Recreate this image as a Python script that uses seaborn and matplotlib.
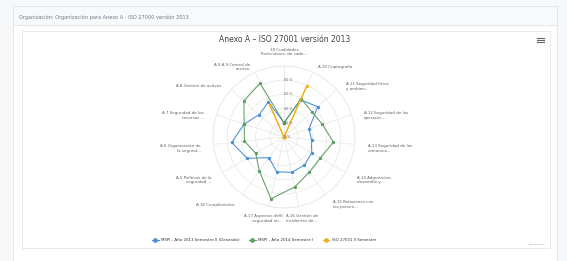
import numpy as np
import pandas as pd
import matplotlib
matplotlib.use("Agg")
import matplotlib.pyplot as plt
import seaborn as sns
from matplotlib.patches import Rectangle

# ---------------- data ----------------
categories = [
    "18 Cualidades\nParticulares, de cada...",
    "A.10 Criptografía",
    "A.11 Seguridad física\ny ambien...",
    "A.12 Seguridad de las\noperacio...",
    "A.13 Seguridad de las\ncomunica...",
    "A.14 Adquisición,\ndesarrollo y...",
    "A.15 Relaciones con\nlos provee...",
    "A.16 Gestión de\nincidentes de...",
    "A.17 Aspectos deSI\nseguridad en...",
    "A.18 Cumplimiento",
    "A.5 Políticas de la\nseguridad ...",
    "A.6 Organización de\nla segurid...",
    "A.7 Seguridad de los\nrecursos ...",
    "A.8 Gestión de activos",
    "A.9 A.9 Control de\nacceso",
]
series_names = [
    "MSPI - Año 2013 Semestre II (Deseado)",
    "MSPI - Año 2014 Semestre I",
    "ISO 27001 II Semestre",
]
mspi_2013 = [20, 57, 64, 37, 39, 45, 49, 51, 50, 36, 60, 74, 59, 47, 54]
mspi_2014 = [20, 59, 53, 57, 70, 59, 61, 72, 89, 59, 46, 56, 59, 76, 83]
iso_2sem = [0, 78, 0, 0, 0, 0, 0, 0, 0, 0, 0, 0, 0, 0, 49]
radial_ticks = [0, 20, 40, 60, 80]
radial_labels = ["0 %", "20 %", "40 %", "60 %", "80 %"]

colors = ["#4a8fd6", "#5e9e63", "#f2b21c"]

# ---------------- figure ----------------
W, H = 567, 261
fig = plt.figure(figsize=(W / 100, H / 100), dpi=100)
fig.patch.set_facecolor("#f6f8f9")

def px_rect(x0, y0, x1, y1, **kw):
    fig.patches.append(Rectangle((x0 / W, 1 - y1 / H), (x1 - x0) / W, (y1 - y0) / H,
                                 transform=fig.transFigure, zorder=-5, **kw))

px_rect(13, 6, 557, 265, facecolor="white", edgecolor="#e3e6e9", lw=0.6)
px_rect(13, 6, 557, 25, facecolor="#f8f9fa", edgecolor="#e3e6e9", lw=0.6)
px_rect(22, 31, 550, 248, facecolor="white", edgecolor="#e4e6e8", lw=0.6)

fig.text(19 / W, 1 - 17 / H, "Organización: Organización para Anexo A - ISO 27000 versión 2013",
         fontsize=3.6, color="#6f7a86", va="center", ha="left")
fig.text(285 / W, 1 - 40 / H, "Anexo A – ISO 27001 versión 2013",
         fontsize=5.5, color="#444444", va="center", ha="center")
for k in range(3):
    fig.lines.append(plt.Line2D([537 / W, 544 / W], [1 - (38 + 2 * k) / H] * 2,
                                transform=fig.transFigure, color="#666666", lw=0.8))
fig.text(545 / W, 1 - 244 / H, "Highcharts.com", fontsize=1.6, color="#999999",
         ha="right", va="center")

# polar axes
cx, cy, R = 284, 137, 71
ax = fig.add_axes([(cx - R) / W, 1 - (cy + R) / H, 2 * R / W, 2 * R / H], projection="polar")
ax.set_facecolor("none")
ax.set_theta_zero_location("N")
ax.set_theta_direction(-1)

n = len(categories)
theta = np.arange(n) * 2 * np.pi / n

rows = []
for name, vals in zip(series_names, [mspi_2013, mspi_2014, iso_2sem]):
    for i in range(n):
        rows.append({"serie": name, "theta": theta[i], "valor": vals[i]})
    rows.append({"serie": name, "theta": 2 * np.pi, "valor": vals[0]})
df = pd.DataFrame(rows)

sns.lineplot(data=df, x="theta", y="valor", hue="serie", palette=colors, sort=False,
             estimator=None, marker="o", markersize=2.4, markeredgewidth=0, lw=0.75,
             ax=ax, legend=False)

ax.set_ylim(0, 100)
ax.set_yticks([20, 40, 60, 80, 100])
ax.set_yticklabels([])
ax.set_xticks(theta)
ax.set_xticklabels([])
ax.grid(True, color="#e6e6e6", lw=0.5)
ax.spines["polar"].set_color("#e6e6e6")
ax.spines["polar"].set_linewidth(0.5)
ax.set_xlabel("")
ax.set_ylabel("")

for t, lab in zip(radial_ticks, radial_labels):
    ax.text(0, t, lab, fontsize=2.4, color="#666666", ha="left", va="center")

# category labels around the chart
lrx, lry, lcy = 84, 80, 140
for ang, lab in zip(theta, categories):
    deg = np.degrees(ang)
    x = cx + lrx * np.sin(ang)
    y = lcy - lry * np.cos(ang)
    if deg < 1:
        ha, y = "center", cy - 85
    elif 20 < deg < 160:
        ha = "left"
    elif 200 < deg < 340:
        ha = "right"
    elif deg < 180:
        ha, x = "left", cx + 2
    else:
        ha, x = "right", cx - 1
    fig.text(x / W, 1 - y / H, lab, fontsize=2.9, color="#606060", ha=ha, va="center",
             multialignment=ha, linespacing=1.25)

handles = [plt.Line2D([], [], color=c, marker="o", markersize=2.4, lw=0.8) for c in colors]
fig.legend(handles, series_names, loc="center", bbox_to_anchor=(264 / W, 1 - 240 / H),
           ncol=3, frameon=False, fontsize=2.9, handlelength=1.6, columnspacing=2.5,
           handletextpad=0.5, labelcolor="#333333")

fig.savefig("out.png", dpi=100)
